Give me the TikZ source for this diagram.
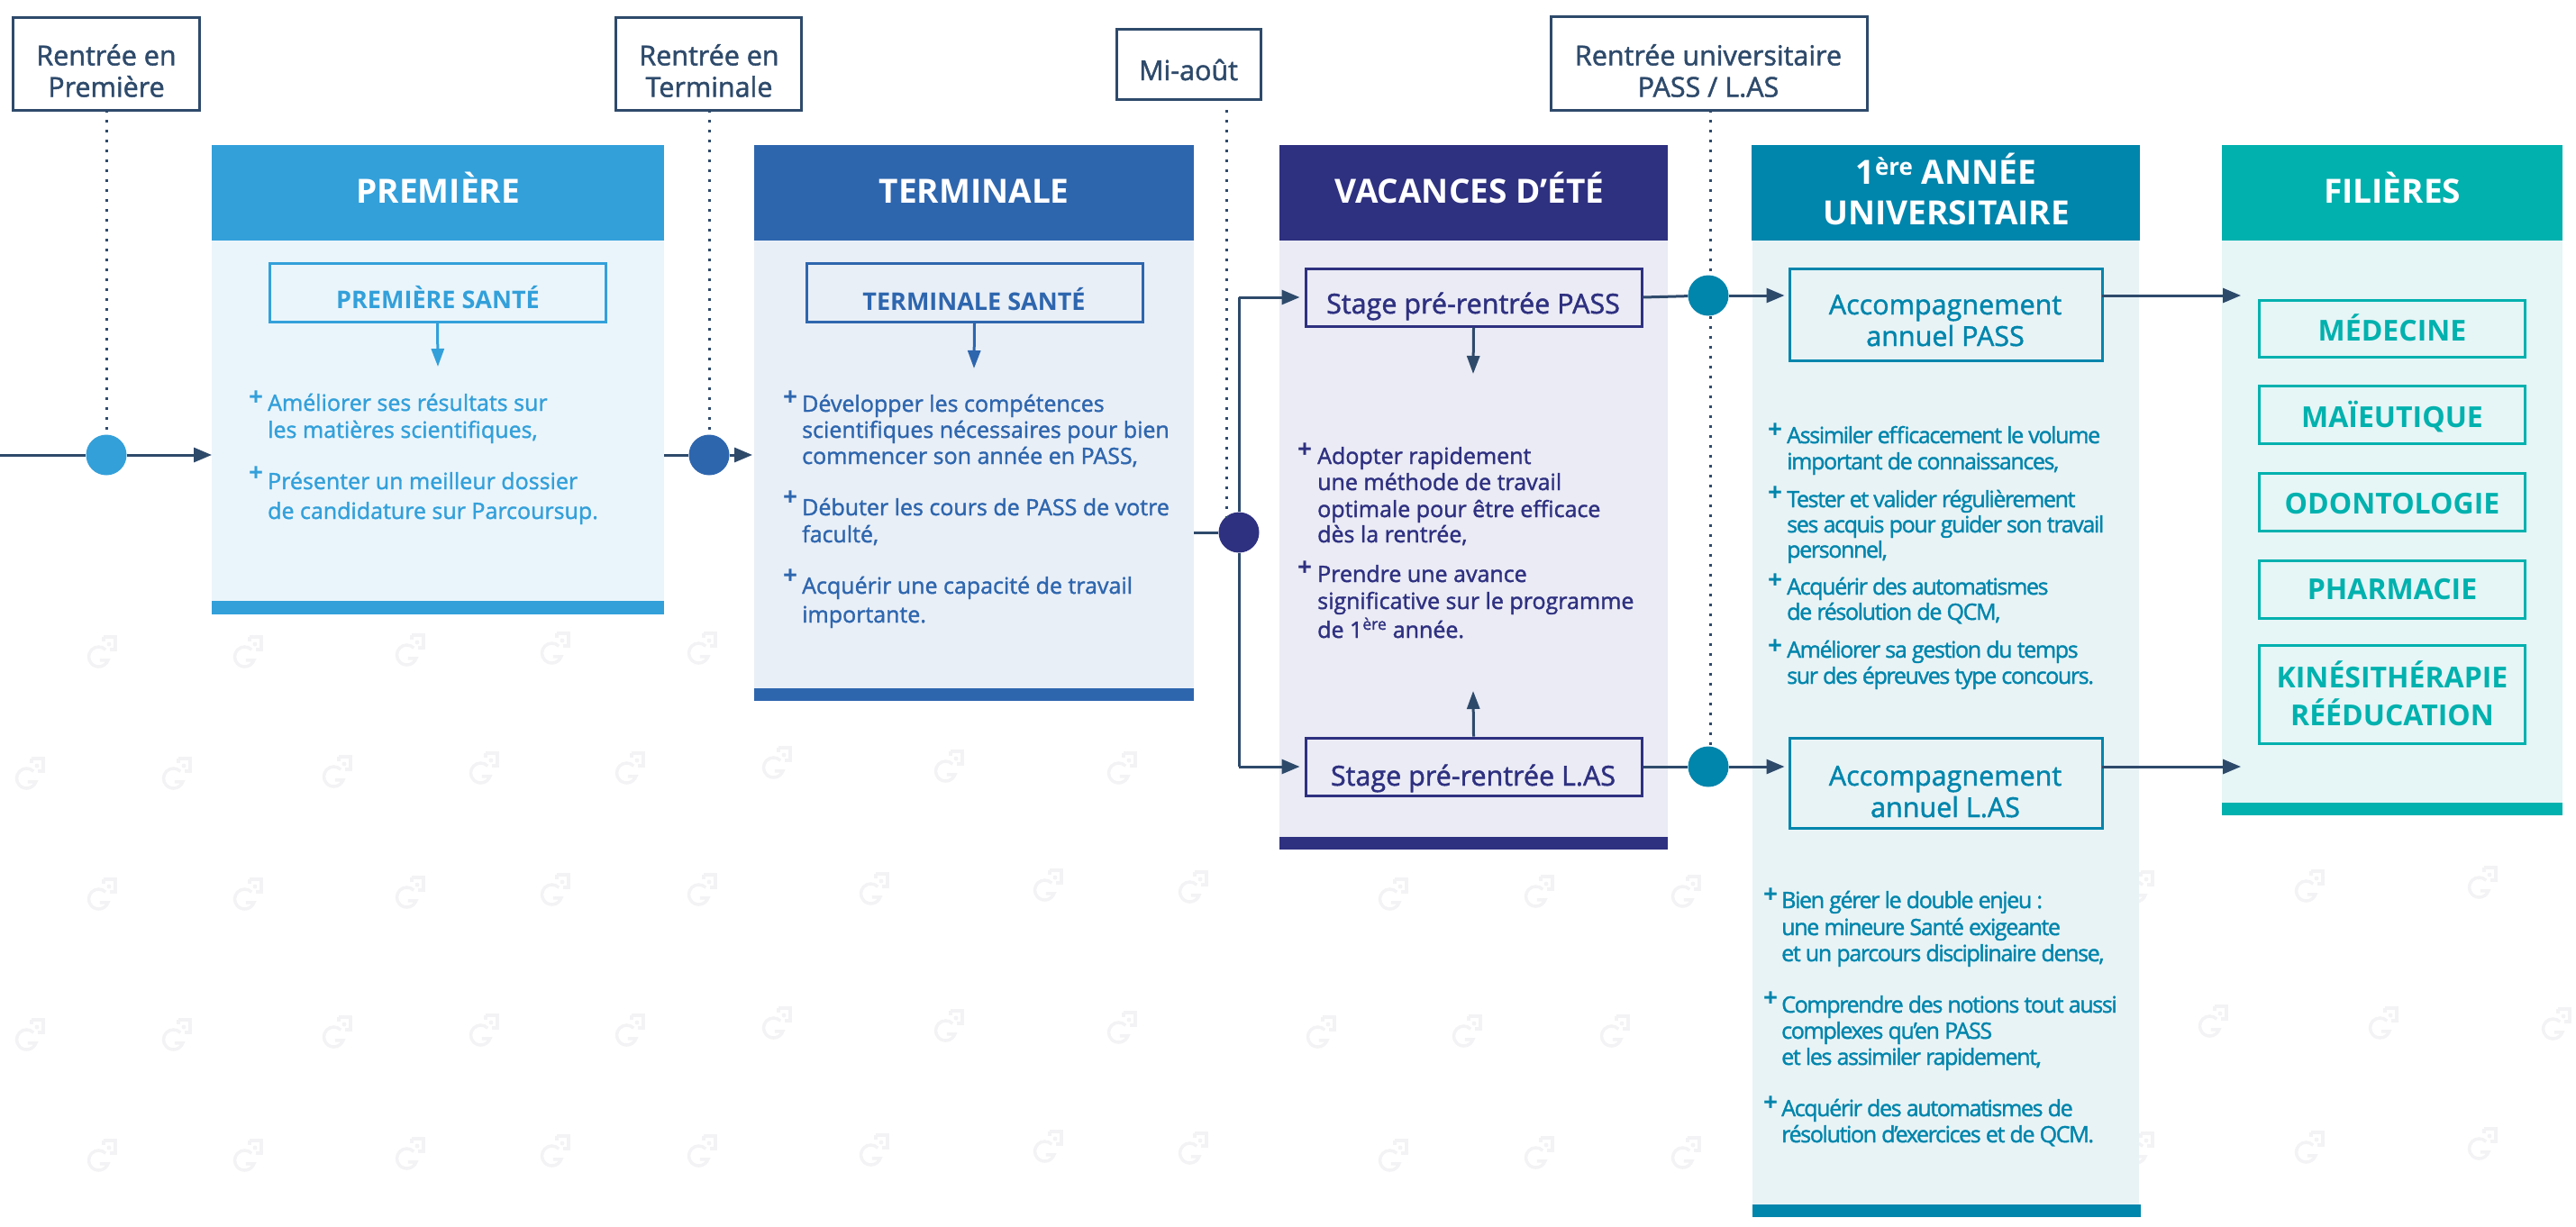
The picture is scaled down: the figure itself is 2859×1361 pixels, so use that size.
\documentclass[tikz,border=0pt]{standalone}
\usepackage{fontspec}
\setmainfont{Open Sans}
\newfontfamily\ossemi[FakeBold=1.5]{Open Sans}
\newfontfamily\ostight[FakeBold=1.5,LetterSpace=-5.4]{Open Sans}
\newcommand{\osbold}{\bfseries}
\usetikzlibrary{arrows.meta}
\definecolor{slate}{HTML}{2E4A6B}
\definecolor{cA}{HTML}{33A0DA}\definecolor{bA}{HTML}{EAF5FB}
\definecolor{cB}{HTML}{2E66AE}\definecolor{bB}{HTML}{E9EFF7}
\definecolor{cC}{HTML}{2E3080}\definecolor{bC}{HTML}{EAEBF4}
\definecolor{cD}{HTML}{0085AC}\definecolor{bD}{HTML}{E8F3F6}
\definecolor{cE}{HTML}{00B1AE}\definecolor{bE}{HTML}{E6F5F6}
\definecolor{wmc}{HTML}{F3F3F5}
\newcommand{\wm}[2]{\begin{scope}[shift={(#1,#2)},wmline]
 \draw (-2.5,4)++(-45:11) arc[start angle=-45,end angle=-340,radius=11] -- ++(-9,0);
 \draw (3,-18) -- (16,-18) -- (16,-4) -- (10,-4);
 \draw (3,-18) -- (3,-13);
 \fill[wmc,draw=none] (9,-10) circle[radius=2.5];
\end{scope}}
\tikzset{
 x=1pt,y=-1pt,
 wmline/.style={draw=wmc,line width=3.5pt},
 timebox/.style={draw=slate,line width=3pt,fill=white,inner sep=0pt},
 timetext/.style={text=slate,anchor=base,font=\ossemi\fontsize{30.5}{30}\selectfont,inner sep=0pt},
 head/.style={anchor=north west,inner sep=0pt,text=white,align=center,text height=22pt,text depth=0pt,font=\osbold\fontsize{37}{45}\selectfont},
 headtext/.style={anchor=base,inner sep=0pt,text=white,font=\osbold\fontsize{37}{45}\selectfont},
 panel/.style={anchor=north west,inner sep=0pt},
 subbox/.style={draw=#1,line width=3pt,fill=none,inner sep=0pt},
 subtext/.style={text=#1,anchor=base,inner sep=0pt},
 body/.style={text=#1,anchor=base west,inner sep=0pt,font=\ossemi\fontsize{25}{25}\selectfont},
 bodyT/.style={text=cD,anchor=base west,inner sep=0pt,font=\ostight\fontsize{25}{25}\selectfont},
 plusmark/.style={text=#1,inner sep=0pt,font=\osbold\fontsize{28}{28}\selectfont},
 dot/.style={circle,inner sep=0pt,minimum size=45pt,fill=#1},
 link/.style={draw=slate,line width=3pt},
 arrowlink/.style={link,-{Triangle[length=20pt,width=16pt]}},
 sublink/.style={draw=#1,line width=3pt,-{Triangle[length=20pt,width=14pt]}},
 dots/.style={draw=slate,line width=3pt,dash pattern=on 3pt off 8pt},
}
\begin{document}
\begin{tikzpicture}
\useasboundingbox (0,0) rectangle (2859,1361);
% watermark
\foreach \p/\q in {112/725,274/725,454/723,615/721,778/721,
 32/860,195/860,373/858,536/854,698/854,861/848,1052/852,1244/854,
 112/994,274/994,454/992,615/989,778/989,969/988,1162/984,1323/986,1545/994,1707/991,1870/991,2373/986,2562/985,2754/981,
 32/1150,195/1150,373/1147,536/1145,698/1145,861/1137,1052/1140,1244/1142,1465/1147,1627/1146,1791/1146,2455/1135,2644/1137,2836/1138,
 112/1284,274/1284,454/1282,615/1279,778/1279,969/1278,1162/1274,1323/1276,1545/1284,1707/1281,1870/1281,2373/1276,2562/1275,2754/1271}
 {\wm{\p}{\q}}
% columns
\node[panel,fill=bA,minimum width=502pt,minimum height=521pt] (p1) at (235,161) {};
\node[panel,fill=bB,minimum width=488pt,minimum height=617pt] (p2) at (837,161) {};
\node[panel,fill=bC,minimum width=431pt,minimum height=782pt] (p3) at (1420,161) {};
\node[panel,fill=bD,minimum width=429pt,minimum height=1190pt] (p4) at (1945,161) {};
\node[panel,fill=bE,minimum width=378pt,minimum height=744pt] (p5) at (2466,161) {};
\node[head,fill=cA,minimum width=502pt,minimum height=106pt] (h1) at (235,161) {PREMIÈRE};
\node[head,fill=cB,minimum width=488pt,minimum height=106pt] (h2) at (837,161) {TERMINALE};
\node[panel,fill=cC,minimum width=431pt,minimum height=106pt] (h3) at (1420,161) {};
\node[headtext] (h3a) at (1631,225) {VACANCES D’ÉTÉ};
\node[panel,fill=cD,minimum width=431pt,minimum height=106pt] (h4) at (1944,161) {};
\node[headtext] (h4a) at (2160,204) {1\textsuperscript{ère} ANNÉE};
\node[headtext] (h4b) at (2160,249) {UNIVERSITAIRE};
\node[head,fill=cE,minimum width=378pt,minimum height=106pt] (h5) at (2466,161) {FILIÈRES};
\node[panel,fill=cA,minimum width=502pt,minimum height=15pt] (f1) at (235,667) {};
\node[panel,fill=cB,minimum width=488pt,minimum height=14pt] (f2) at (837,764) {};
\node[panel,fill=cC,minimum width=431pt,minimum height=14pt] (f3) at (1420,929) {};
\node[panel,fill=cD,minimum width=431pt,minimum height=14pt] (f4) at (1945,1337) {};
\node[panel,fill=cE,minimum width=378pt,minimum height=14pt] (f5) at (2466,891) {};
% time boxes
\node[timebox,minimum width=207pt,minimum height=103pt] (t1) at (117.5,70.5) {};
\node[timebox,minimum width=206pt,minimum height=103pt] (t2) at (786,70.5) {};
\node[timebox,minimum width=160pt,minimum height=78pt] (t3) at (1319,71) {};
\node[timebox,minimum width=351pt,minimum height=104pt] (t4) at (1896.5,70) {};
\node[timetext] (t1a) at (118,72.5) {Rentrée en};
\node[timetext] (t1b) at (118,107.5) {Première};
\node[timetext] (t2a) at (787,72.5) {Rentrée en};
\node[timetext] (t2b) at (787,107.5) {Terminale};
\node[timetext] (t3a) at (1319,89) {Mi-août};
\node[timetext] (t4a) at (1896,72.5) {Rentrée universitaire};
\node[timetext] (t4b) at (1896,107.5) {PASS / L.AS};
% junction points
\coordinate (d1top) at (118,122); \coordinate (d2top) at (787,122);
\coordinate (d3top) at (1361,122); \coordinate (d4top) at (1898,122);
\node[dot=cA] (c1) at (118,505) {};
\node[dot=cB] (c2) at (787,505) {};
\node[dot=cC] (c3) at (1375,591) {};
\node[dot=cD] (c4) at (1896,328) {};
\node[dot=cD] (c5) at (1896,851) {};
\coordinate (d3bot) at (1361,575);
\coordinate (start) at (0,505); \coordinate (in1) at (235,505);
\coordinate (out1) at (737,505); \coordinate (in2) at (835,505);
\coordinate (out2) at (1325,591);
\draw[dots] (d1top) -- (c1);
\draw[dots] (d2top) -- (c2);
\draw[dots] (d3top) -- (d3bot);
\draw[dots] (d4top) -- (c4.north -| d4top);
\draw[dots] (c4.south -| d4top) -- (c5.north -| d4top);
\draw[link] (start) -- (c1);
\draw[arrowlink] (c1) -- (in1);
\draw[link] (out1) -- (c2);
\draw[arrowlink] (c2) -- (in2);
\draw[link] (out2) -- (c3);
% sub boxes
\node[subbox=cA,minimum width=373pt,minimum height=65pt] (s1) at (485.5,324.5) {};
\node[subtext=cA,font=\osbold\fontsize{27}{27}\selectfont] (s1t) at (486,342) {PREMIÈRE SANTÉ};
\node[subbox=cB,minimum width=373pt,minimum height=65pt] (s2) at (1081.5,324.5) {};
\node[subtext=cB,font=\osbold\fontsize{27}{27}\selectfont] (s2t) at (1081,344) {TERMINALE SANTÉ};
\coordinate (a1) at (486,407); \coordinate (a2) at (1081,409);
\draw[sublink=cA] (s1.south) -- (a1);
\draw[sublink=cB] (s2.south) -- (a2);
% stage boxes
\tikzset{stagefont/.style={subtext=cC,font=\ossemi\fontsize{30.5}{30}\selectfont}}
\node[subbox=cC,minimum width=373pt,minimum height=64pt] (st1) at (1635.5,330) {};
\node[stagefont] (st1t) at (1635,348) {Stage pré-rentrée PASS};
\node[subbox=cC,minimum width=373pt,minimum height=64pt] (st2) at (1635.5,851) {};
\node[stagefont] (st2t) at (1635,872) {Stage pré-rentrée L.AS};
\coordinate (a3) at (1635,415); \coordinate (a4) at (1635,767);
\draw[sublink=slate] (st1.south) -- (a3);
\draw[sublink=slate] (st2.north) -- (a4);
\draw[link] (c3) -- (1375,330) coordinate (vtop);
\draw[link] (c3) -- (1375,851) coordinate (vbot);
\draw[arrowlink] (vtop) -- ([xshift=-5pt]st1.west);
\draw[arrowlink] (vbot) -- ([xshift=-5pt]st2.west);
\draw[link] (st1.east) -- (c4);
\draw[link] (st2.east) -- (c5);
% annual boxes
\tikzset{annfont/.style={subtext=cD,font=\ossemi\fontsize{30.5}{30}\selectfont}}
\node[subbox=cD,minimum width=347pt,minimum height=102pt] (y1) at (2159.5,349) {};
\node[annfont] (y1a) at (2159,349) {Accompagnement};
\node[annfont] (y1b) at (2159,384) {annuel PASS};
\node[subbox=cD,minimum width=347pt,minimum height=100pt] (y2) at (2159.5,869) {};
\node[annfont] (y2a) at (2159,872) {Accompagnement};
\node[annfont] (y2b) at (2159,907) {annuel L.AS};
\coordinate (e1) at (2487,328); \coordinate (e2) at (2487,851);
\coordinate (y1e) at (2333,328); \coordinate (y2e) at (2333,851);
\draw[arrowlink] (c4) -- ([xshift=-4pt]y1.west |- c4);
\draw[arrowlink] (c5) -- ([xshift=-4pt]y2.west |- c5);
\draw[arrowlink] (y1e) -- (e1);
\draw[arrowlink] (y2e) -- (e2);
% filieres
\tikzset{filfont/.style={subtext=cE,font=\osbold\fontsize{32}{32}\selectfont}}
\node[subbox=cE,minimum width=295pt,minimum height=63pt] (m1) at (2654.5,364.5) {};
\node[subbox=cE,minimum width=295pt,minimum height=64pt] (m2) at (2654.5,460) {};
\node[subbox=cE,minimum width=295pt,minimum height=64pt] (m3) at (2654.5,557) {};
\node[subbox=cE,minimum width=295pt,minimum height=64pt] (m4) at (2654.5,654) {};
\node[subbox=cE,minimum width=295pt,minimum height=109pt] (m5) at (2654.5,770.5) {};
\node[filfont] (m1t) at (2655,378) {MÉDECINE};
\node[filfont] (m2t) at (2655,474) {MAÏEUTIQUE};
\node[filfont] (m3t) at (2655,570) {ODONTOLOGIE};
\node[filfont] (m4t) at (2655,665) {PHARMACIE};
\node[filfont] (m5a) at (2655,763) {KINÉSITHÉRAPIE};
\node[filfont] (m5b) at (2655,805) {RÉÉDUCATION};
% plus marks
\foreach \x/\y/\c [count=\i] in {284/442/cA,284/526/cA,877/442/cB,877/553/cB,877/640/cB,1448/500/cC,1448/631/cC,1970/478/cD,1970/548/cD,1970/645/cD,1970/718/cD,1965/994/cD,1965/1109/cD,1965/1225/cD}
 \node[plusmark=\c] (plus\i) at (\x,\y) {+};
% body text
\foreach \y/\t [count=\i] in {456/{Améliorer ses résultats sur},486/{les matières scientifiques,},543/{Présenter un meilleur dossier},576/{de candidature sur Parcoursup.}}
 \node[body=cA] (ta\i) at (297,\y) {\t};
\foreach \y/\t [count=\i] in {457/{Développer les compétences},486/{scientifiques nécessaires pour bien},515/{commencer son année en PASS,},572/{Débuter les cours de PASS de votre},602/{faculté,},659/{Acquérir une capacité de travail},691/{importante.}}
 \node[body=cB] (tb\i) at (890,\y) {\t};
\foreach \y/\t [count=\i] in {515/{Adopter rapidement},544/{une méthode de travail},574/{optimale pour être efficace},602/{dès la rentrée,},646/{Prendre une avance},676/{significative sur le programme},708/{de 1\textsuperscript{ère} année.}}
 \node[body=cC] (tc\i) at (1462,\y) {\t};
\foreach \y/\t [count=\i] in {492/{Assimiler efficacement le volume},521/{important de connaissances,},563/{Tester et valider régulièrement},591/{ses acquis pour guider son travail},619/{personnel,},660/{Acquérir des automatismes},688/{de résolution de QCM,},730/{Améliorer sa gestion du temps},759/{sur des épreuves type concours.}}
 \node[bodyT] (td\i) at (1983,\y) {\t};
\foreach \y/\t [count=\i] in {1008/{Bien gérer le double enjeu :},1038/{une mineure Santé exigeante},1067/{et un parcours disciplinaire dense,},1124/{Comprendre des notions tout aussi},1153/{complexes qu’en PASS},1182/{et les assimiler rapidement,},1239/{Acquérir des automatismes de},1268/{résolution d’exercices et de QCM.}}
 \node[bodyT] (te\i) at (1977,\y) {\t};
\end{tikzpicture}
\end{document}
